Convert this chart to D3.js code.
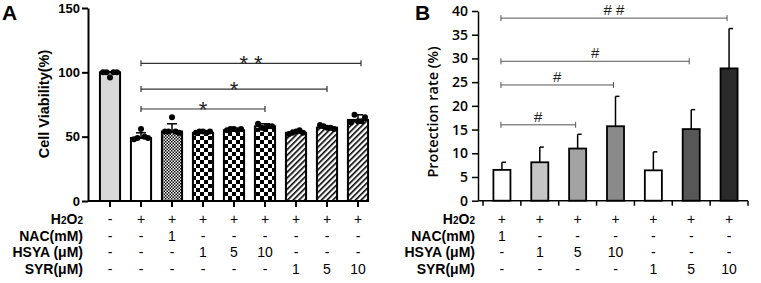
<!DOCTYPE html>
<meta charset="utf-8">
<html>
<head>
<style>
    body { margin: 0; background: #fff; }
    text { font-family: "Liberation Sans", Arial, sans-serif; fill: #000; }
    .tickA text { font-size: 13px; font-weight: bold; }
    .tickB text { font-family: "Open Sans", sans-serif; font-size: 14px; font-weight: 600; }
    .rowlabel { font-size: 14px; font-weight: bold; text-anchor: end; }
    .cell { font-size: 14px; text-anchor: middle; }
    .sig { font-size: 22px; text-anchor: middle; fill: #222; }
</style>
</head>
<body>
<svg id="chart" width="761" height="283"></svg>
<script src="https://d3js.org/d3.v7.min.js"></script>
<script>
// ---- data panel A ----
const groupsA = ["Ctrl", "H2O2", "NAC1", "HSYA1", "HSYA5", "HSYA10", "SYR1", "SYR5", "SYR10"];
const meanA = [100, 49, 54, 53, 55, 58, 53, 57, 63];
const sdA = [0.5, 4, 6, 1, 1, 2, 2, 1, 4];
const pointsA = [
    [100, 100, 96, 100, 100],
    [48, 49, 56, 50, 49],
    [54, 54, 65, 54, 53],
    [53, 54, 54, 53, 54],
    [55, 56, 56, 55, 56],
    [60, 57, 56, 58, 58],
    [52, 53, 54, 55, 53],
    [59, 58, 57, 57, 56],
    [61, 67, 62, 62, 65]
];
const ticksA = [0, 50, 100, 150];
const sigA = [
    { from: 1, to: 5, y: 71.5, label: "*" },
    { from: 1, to: 7, y: 87, label: "*" },
    { from: 1, to: 8, y: 107, label: "* *" }
];
const h2o2A = ["-", "+", "+", "+", "+", "+", "+", "+", "+"];
const nacA = ["-", "-", "1", "-", "-", "-", "-", "-", "-"];
const hsyaA = ["-", "-", "-", "1", "5", "10", "-", "-", "-"];
const syrA = ["-", "-", "-", "-", "-", "-", "1", "5", "10"];

// ---- data panel B ----
const groupsB = ["NAC1", "HSYA1", "HSYA5", "HSYA10", "SYR1", "SYR5", "SYR10"];
const meanB = [6.5, 8.1, 11, 15.7, 6.4, 15.1, 27.9];
const sdB = [1.6, 3.2, 3, 6.3, 3.9, 4.1, 8.4];
const ticksB = [0, 5, 10, 15, 20, 25, 30, 35, 40];
const sigB = [
    { from: 0, to: 2, y: 16, label: "#" },
    { from: 0, to: 3, y: 24.4, label: "#" },
    { from: 0, to: 5, y: 29.4, label: "#" },
    { from: 0, to: 6, y: 38.5, label: "# #" }
];
const h2o2B = ["+", "+", "+", "+", "+", "+", "+"];
const nacB = ["1", "-", "-", "-", "-", "-", "-"];
const hsyaB = ["-", "1", "5", "10", "-", "-", "-"];
const syrB = ["-", "-", "-", "-", "1", "5", "10"];

// row labels, split into parts: [text, small?]
const rowNames = [
    [["H", false], ["2", true], ["O", false], ["2", true]],
    [["NAC(mM)", false]],
    [["HSYA (μM)", false]],
    [["SYR(μM)", false]]
];
const rowY = [224, 240.5, 257, 273.5];

const svg = d3.select("#chart");

function rowLabel(x, y, parts) {
    const t = svg.append("text").attr("class", "rowlabel").attr("x", x).attr("y", y);
    parts.forEach(p => {
        t.append("tspan").style("font-size", p[1] ? "10px" : null).text(p[0]);
    });
}

// patterns
const defs = svg.append("defs");
const fine = defs.append("pattern").attr("id", "fine").attr("patternUnits", "userSpaceOnUse")
    .attr("width", 3).attr("height", 3);
fine.append("rect").attr("width", 3).attr("height", 3).attr("fill", "#fff");
fine.append("rect").attr("width", 1.5).attr("height", 1.5).attr("fill", "#000");
fine.append("rect").attr("x", 1.5).attr("y", 1.5).attr("width", 1.5).attr("height", 1.5).attr("fill", "#000");

const checker = defs.append("pattern").attr("id", "checker").attr("patternUnits", "userSpaceOnUse")
    .attr("width", 8).attr("height", 8);
checker.append("rect").attr("width", 8).attr("height", 8).attr("fill", "#fff");
checker.append("rect").attr("width", 4).attr("height", 4).attr("fill", "#000");
checker.append("rect").attr("x", 4).attr("y", 4).attr("width", 4).attr("height", 4).attr("fill", "#000");

const hatch = defs.append("pattern").attr("id", "hatch").attr("patternUnits", "userSpaceOnUse")
    .attr("width", 4).attr("height", 4).attr("patternTransform", "rotate(45)");
hatch.append("rect").attr("width", 4).attr("height", 4).attr("fill", "#fff");
hatch.append("rect").attr("width", 1.6).attr("height", 4).attr("fill", "#000");

const fillA = ["#d9d9d9", "#fff", "url(#fine)", "url(#checker)", "url(#checker)", "url(#checker)",
    "url(#hatch)", "url(#hatch)", "url(#hatch)"];
const fillB = ["#fff", "#c6c6c6", "#a3a3a3", "#8a8a8a", "#fff", "#575757", "#2a2a2a"];

// ================= Panel A =================
const xA = d3.scaleBand().domain(groupsA).range([94.5, 373.5]).paddingInner(0.35).paddingOuter(0.175);
const yA = d3.scaleLinear().domain([0, 150]).range([201, 8]);
const gA = svg.append("g");

const yAxA = gA.append("g").attr("class", "tickA").attr("transform", "translate(88,0)")
    .call(d3.axisLeft(yA).tickValues(ticksA).tickSize(6).tickSizeOuter(0));
yAxA.select(".domain").attr("stroke-width", 2);
yAxA.selectAll(".tick line").attr("stroke-width", 2);
yAxA.selectAll(".tick text").attr("x", -8);

gA.selectAll(".barA").data(groupsA).enter().append("rect")
    .attr("x", d => xA(d))
    .attr("y", (d, i) => yA(meanA[i]))
    .attr("width", xA.bandwidth())
    .attr("height", (d, i) => yA(0) - yA(meanA[i]))
    .attr("fill", (d, i) => fillA[i])
    .attr("stroke", "#000").attr("stroke-width", 2);

// error bars
groupsA.forEach((g, i) => {
    const cx = xA(g) + xA.bandwidth() / 2;
    gA.append("line").attr("x1", cx).attr("x2", cx)
        .attr("y1", yA(meanA[i])).attr("y2", yA(meanA[i] + sdA[i]))
        .attr("stroke", "#000").attr("stroke-width", 1.5);
    gA.append("line").attr("x1", cx - 5).attr("x2", cx + 5)
        .attr("y1", yA(meanA[i] + sdA[i])).attr("y2", yA(meanA[i] + sdA[i]))
        .attr("stroke", "#000").attr("stroke-width", 1.5);
});

// dots
const jitter = [-7, -3.5, 0, 3.5, 7];
groupsA.forEach((g, i) => {
    const cx = xA(g) + xA.bandwidth() / 2;
    gA.selectAll(null).data(pointsA[i]).enter().append("circle")
        .attr("cx", (d, j) => cx + jitter[j])
        .attr("cy", d => yA(d))
        .attr("r", 3)
        .attr("fill", "#000");
});

// x axis
const xAxA = gA.append("g").attr("transform", "translate(0," + yA(0) + ")")
    .call(d3.axisBottom(xA).tickSize(6).tickSizeOuter(0).tickFormat(""));
xAxA.select(".domain").attr("d", "M88,0H367").attr("stroke-width", 2);
xAxA.selectAll(".tick line").attr("stroke-width", 2);

// significance
sigA.forEach(s => {
    const x1 = xA(groupsA[s.from]) + xA.bandwidth() / 2;
    const x2 = xA(groupsA[s.to]) + xA.bandwidth() / 2 + (s.to === 8 ? 3 : 0);
    const y = yA(s.y);
    gA.append("path").attr("d", `M${x1},${y - 3}V${y + 3}M${x1},${y}H${x2}M${x2},${y - 3}V${y + 3}`)
        .attr("stroke", "#333").attr("stroke-width", 1.2).attr("fill", "none");
    gA.append("text").attr("class", "sig").attr("x", (x1 + x2) / 2).attr("y", y + 8).text(s.label);
});

// labels
svg.append("text").attr("x", 2).attr("y", 20).style("font-size", "21px").style("font-weight", "bold").text("A");
svg.append("text").attr("transform", "translate(49,104)rotate(-90)")
    .style("font-size", "14.5px").style("font-weight", "bold").attr("text-anchor", "middle")
    .text("Cell Viability(%)");

[h2o2A, nacA, hsyaA, syrA].forEach((row, r) => {
    rowLabel(83, rowY[r], rowNames[r]);
    svg.selectAll(null).data(row).enter().append("text").attr("class", "cell")
        .attr("x", (d, i) => xA(groupsA[i]) + xA.bandwidth() / 2)
        .attr("y", rowY[r]).text(d => d);
});

// ================= Panel B =================
const xB = d3.scaleBand().domain(groupsB).range([483, 748]).paddingInner(0.55).paddingOuter(0.275);
const yB = d3.scaleLinear().domain([0, 40]).range([200.7, 11]);
const gB = svg.append("g");

const yAxB = gB.append("g").attr("class", "tickB").attr("transform", "translate(478,0)")
    .call(d3.axisLeft(yB).tickValues(ticksB).tickSize(6).tickSizeOuter(0));
yAxB.select(".domain").attr("stroke-width", 1.5);
yAxB.selectAll(".tick line").attr("stroke-width", 1.5);
yAxB.selectAll(".tick text").attr("x", -10);

gB.selectAll(".barB").data(groupsB).enter().append("rect")
    .attr("x", d => xB(d))
    .attr("y", (d, i) => yB(meanB[i]))
    .attr("width", xB.bandwidth())
    .attr("height", (d, i) => yB(0) - yB(meanB[i]))
    .attr("fill", (d, i) => fillB[i])
    .attr("stroke", "#000").attr("stroke-width", 1.8);

groupsB.forEach((g, i) => {
    const cx = xB(g) + xB.bandwidth() / 2;
    gB.append("line").attr("x1", cx).attr("x2", cx)
        .attr("y1", yB(meanB[i])).attr("y2", yB(meanB[i] + sdB[i]))
        .attr("stroke", "#000").attr("stroke-width", 1.5);
    gB.append("line").attr("x1", cx).attr("x2", cx + 4)
        .attr("y1", yB(meanB[i] + sdB[i])).attr("y2", yB(meanB[i] + sdB[i]))
        .attr("stroke", "#000").attr("stroke-width", 1.5);
});

// x axis with ticks at band edges
const edgesB = d3.range(groupsB.length + 1).map(i => xB.range()[0] + i * xB.step());
gB.append("line").attr("x1", 478).attr("x2", 748).attr("y1", yB(0)).attr("y2", yB(0))
    .attr("stroke", "#000").attr("stroke-width", 1.5);
gB.selectAll(".edgeB").data(edgesB).enter().append("line")
    .attr("x1", d => d).attr("x2", d => d)
    .attr("y1", yB(0)).attr("y2", yB(0) + 5)
    .attr("stroke", "#000").attr("stroke-width", 1.5);

sigB.forEach(s => {
    const x1 = xB(groupsB[s.from]) + xB.bandwidth() / 2 - 1;
    const x2 = xB(groupsB[s.to]) + xB.bandwidth() / 2 - 2;
    const y = yB(s.y);
    gB.append("path").attr("d", `M${x1},${y - 3}V${y + 3}M${x1},${y}H${x2}M${x2},${y - 3}V${y + 3}`)
        .attr("stroke", "#555").attr("stroke-width", 1).attr("fill", "none");
    gB.append("text").attr("class", "sig").style("font-size", "15px")
        .attr("x", (x1 + x2) / 2).attr("y", y - 3).text(s.label);
});

svg.append("text").attr("x", 415).attr("y", 20).style("font-size", "21px").style("font-weight", "bold").text("B");
svg.append("text").attr("transform", "translate(438,112)rotate(-90)")
    .style("font-family", "'Open Sans', sans-serif").style("font-size", "14.5px").style("font-weight", "600")
    .attr("text-anchor", "middle").text("Protection rate (%)");

[h2o2B, nacB, hsyaB, syrB].forEach((row, r) => {
    rowLabel(475, rowY[r], rowNames[r]);
    svg.selectAll(null).data(row).enter().append("text").attr("class", "cell")
        .attr("x", (d, i) => xB(groupsB[i]) + xB.bandwidth() / 2)
        .attr("y", rowY[r]).text(d => d);
});
</script>
</body>
</html>
